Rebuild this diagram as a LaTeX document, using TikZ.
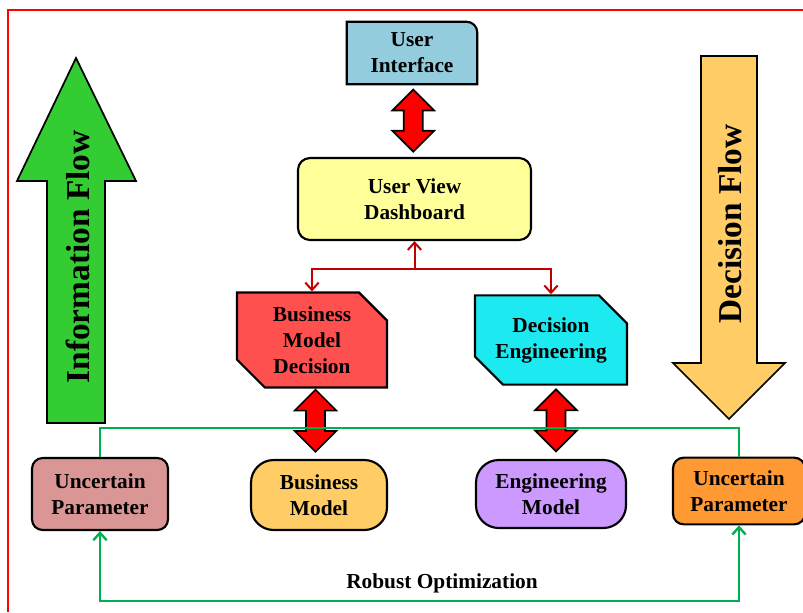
\documentclass[tikz,border=0pt]{standalone}
\usepackage{fontspec}
\setmainfont{Liberation Serif}
\usepackage{xcolor}
\usepackage{tikz}
\usetikzlibrary{positioning, arrows.meta, calc, shapes.misc, shapes.arrows, backgrounds}
\definecolor{frameRed}{HTML}{FF0000}
\definecolor{linkRed}{HTML}{C00000}
\definecolor{linkGreen}{HTML}{00B050}
\definecolor{boxBlue}{HTML}{93CDDD}
\definecolor{boxYellow}{HTML}{FFFF99}
\definecolor{boxRed}{HTML}{FF5050}
\definecolor{boxCyan}{HTML}{1DE9F0}
\definecolor{boxRose}{HTML}{D99694}
\definecolor{boxGold}{HTML}{FFCC66}
\definecolor{boxLilac}{HTML}{CC99FF}
\definecolor{boxOrange}{HTML}{FF9933}
\definecolor{flowGreen}{HTML}{33CC33}

\begin{document}
\begin{tikzpicture}[x=0.75pt, y=-0.75pt,
  lbl/.style={font=\fontsize{16}{19.5}\selectfont\bfseries, align=center, inner sep=0pt},
  card/.style={lbl, draw=black, line width=1.6pt},
  snipped/.style={card, chamfered rectangle, chamfered rectangle corners={north east, south west},
    chamfered rectangle xsep=10.5pt, chamfered rectangle ysep=10.5pt},
  twoway/.style={double arrow, rotate=90, draw=black, fill=red, line width=1.3pt,
    minimum height=46.5pt, inner xsep=0pt, inner ysep=6.4pt, double arrow head extend=8.6pt},
  redlink/.style={draw=linkRed, line width=1.5pt, -{Straight Barb[length=5.5pt, width=10pt]}},
  greenrule/.style={draw=linkGreen, line width=1.1pt},
  greenlink/.style={draw=linkGreen, line width=1.8pt,
    {Straight Barb[length=5.5pt, width=10pt]}-{Straight Barb[length=5.5pt, width=10pt]}},
  flowline/.style={draw=black, line width=1.3pt, line join=miter},
  flowtext/.style={font=\fontsize{25}{30}\selectfont\bfseries, inner sep=0pt}]
  \useasboundingbox (0,0) rectangle (803,612);
  \clip (0,0) rectangle (803,612);
  \draw[frameRed, line width=1.5pt] (8,612) -- (8,10) -- (803,10);

  \draw[flowline, fill=flowGreen] (47,423) -- (47,181) -- (17,181) -- (76,58) -- (136,181) -- (105,181) -- (105,423) -- cycle;
  \node[flowtext, rotate=90] (infoflow) at (78,257) {Information Flow};
  \draw[flowline, fill=boxGold] (701,56) -- (757,56) -- (757,363) -- (785,363) -- (729,419) -- (673,363) -- (701,363) -- cycle;
  \node[flowtext, rotate=90] (decflow) at (730,224) {Decision Flow};

  \node[lbl, minimum width=97.5pt, minimum height=46.5pt] (ui) at (412,53) {User\\Interface};
  \begin{scope}[on background layer]
    \draw[line width=1.6pt, fill=boxBlue] (ui.south west) -- (ui.north west)
      -- ([xshift=-8pt]ui.north east) arc[start angle=90, end angle=0, radius=8pt] -- (ui.south east) -- cycle;
  \end{scope}
  \node[card, fill=boxYellow, rounded corners=9pt, minimum width=174.75pt, minimum height=61.5pt] (dash) at (414.5,199) {User View\\Dashboard};
  \node[snipped, fill=boxRed, minimum width=112.5pt, minimum height=67pt] (bmd) at (312,340) {Business\\Model\\Decision};
  \node[snipped, fill=boxCyan, minimum width=114pt, minimum height=67pt] (deng) at (551,340) {Decision\\Engineering};

  \node[card, fill=boxRose, rounded corners=8pt, minimum width=102pt, minimum height=54pt] (upl) at (100,494) {Uncertain\\Parameter};
  \node[card, fill=boxGold, rounded corners=17pt, minimum width=102pt, minimum height=52.5pt] (bm) at (319,495) {Business\\Model};
  \node[card, fill=boxLilac, rounded corners=17pt, minimum width=112.5pt, minimum height=51pt] (em) at (551,494) {Engineering\\Model};
  \node[card, fill=boxOrange, rounded corners=8pt, minimum width=99pt, minimum height=50pt] (upr) at (739,491) {Uncertain\\Parameter};

  \node[twoway] (uiarr) at ($(ui.south)!0.5!(dash.north)$) {};
  \node[twoway] (bmarr) at ($(bmd.south)!0.5!(bm.north)+(0,-3)$) {};
  \node[twoway] (emarr) at ($(deng.south)!0.5!(em.north)+(5,-2)$) {};

  \coordinate (fork) at ($(dash.south)+(0,28)$);
  \draw[redlink] (fork) -- (dash.south);
  \draw[redlink] (fork) -| (bmd.north);
  \draw[redlink] (fork) -| (deng.north);

  \draw[greenrule] (upl.north) -- ++(0,-29) -| (upr.north);
  \draw[greenlink] (upl.south) -- ++(0,70) -| (upr.south);
  \node[lbl] (robust) at (442,583) {Robust Optimization};
\end{tikzpicture}
\end{document}
